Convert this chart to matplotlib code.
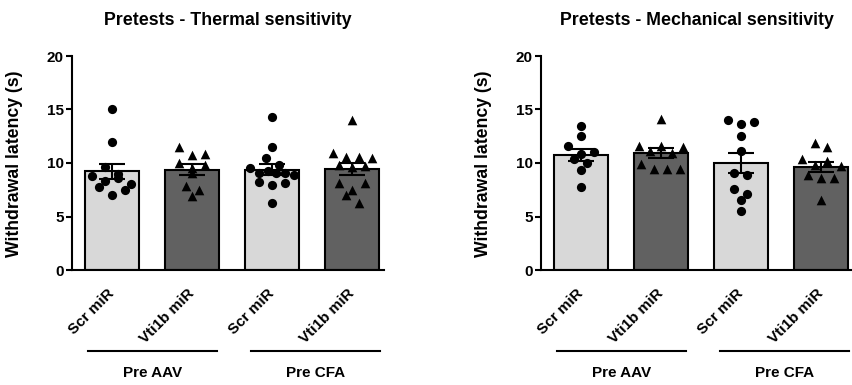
import numpy as np
import matplotlib
matplotlib.use("Agg")
import matplotlib.pyplot as plt
import matplotlib.transforms as mtransforms

plt.rcParams['font.family'] = ['Liberation Sans', 'DejaVu Sans']
plt.rcParams['font.weight'] = 'bold'

# ---------------- data ----------------
categories = ["Scr miR", "Vti1b miR", "Scr miR", "Vti1b miR"]
groups = ["Pre AAV", "Pre CFA"]
titles = ["Pretests - Thermal sensitivity", "Pretests - Mechanical sensitivity"]
ylabel = "Withdrawal latency (s)"
yticks = [0, 5, 10, 15, 20]

thermal_aav_scr = [15.0, 12.0, 9.65, 9.0, 8.3, 8.75, 8.6, 8.05, 7.8, 7.5, 7.05]
thermal_aav_vti = [11.5, 10.75, 10.85, 10.0, 9.55, 9.85, 9.1, 7.85, 7.45, 6.95]
thermal_cfa_scr = [14.3, 11.5, 10.5, 9.5, 9.85, 9.1, 8.85, 9.05, 9.05, 9.25, 7.9, 8.2, 8.1, 6.25]
thermal_cfa_vti = [14.05, 10.55, 10.95, 10.45, 10.6, 9.85, 9.6, 9.75, 8.1, 7.5, 8.1, 7.0, 6.25]

mech_aav_scr = [13.5, 12.55, 11.55, 10.85, 11.0, 10.35, 10.0, 9.3, 7.75]
mech_aav_vti = [14.1, 11.6, 11.45, 11.6, 10.9, 11.1, 9.9, 9.45, 9.45, 9.45]
mech_cfa_scr = [14.0, 13.6, 13.85, 12.5, 11.1, 8.9, 9.05, 7.55, 7.1, 6.55, 5.55]
mech_cfa_vti = [11.85, 11.5, 10.15, 10.35, 9.7, 9.8, 8.6, 8.6, 8.9, 6.55]

panels = [
    [thermal_aav_scr, thermal_aav_vti, thermal_cfa_scr, thermal_cfa_vti],
    [mech_aav_scr, mech_aav_vti, mech_cfa_scr, mech_cfa_vti],
]

# ---------------- style ----------------
bar_colors = ["#d8d8d8", "#616161", "#d8d8d8", "#616161"]
markers = ["o", "^", "o", "^"]


def row_scatter_x(values, ax, x0, row_px=8.5, step_px=13.0, max_half_px=22.0):
    """GraphPad-like scatter: values close in y share a row, spread in x."""
    vals = np.asarray(values, dtype=float)
    t = ax.transData
    p00 = t.transform((0, 0))
    p11 = t.transform((1, 1))
    sx = p11[0] - p00[0]
    sy = p11[1] - p00[1]
    order = np.argsort(-vals, kind="stable")
    rows, cur = [], [order[0]]
    for i in order[1:]:
        if (vals[cur[0]] - vals[i]) * sy <= row_px:
            cur.append(i)
        else:
            rows.append(cur)
            cur = [i]
    rows.append(cur)
    xs = np.zeros(len(vals))
    for r in rows:
        n = len(r)
        if n == 1:
            xs[r[0]] = 0.0
            continue
        step = min(step_px, 2 * max_half_px / (n - 1))
        pos = (np.arange(n) - (n - 1) / 2) * step
        # interleave: alternate left/right so neighbours differ in height
        pos_order = np.concatenate([pos[0::2], pos[1::2]])
        for k, idx in enumerate(r):
            xs[idx] = pos_order[k]
    return x0 + xs / sx


W, H = 853, 385
fig = plt.figure(figsize=(W / 100, H / 100), dpi=100)

ax_bottom = (H - 270) / H
ax_height = 214 / H
ax_width = 312 / W
lefts = [72 / W, 541 / W]
ylabel_x = [15 / W, 484 / W]

for p, data in enumerate(panels):
    ax = fig.add_axes([lefts[p], ax_bottom, ax_width, ax_height])
    x = np.arange(len(data))
    means = [np.mean(d) for d in data]
    sems = [np.std(d, ddof=1) / np.sqrt(len(d)) for d in data]

    ax.set_xlim(-0.5, 3.4)
    ax.set_ylim(0, 20)

    ax.bar(x, means, width=0.67, color=bar_colors, edgecolor="black",
           linewidth=1.5, zorder=1)
    ax.errorbar(x, means, yerr=sems, fmt="none", ecolor="black",
                elinewidth=1.5, capsize=9.5, capthick=1.5, zorder=3)
    for i, d in enumerate(data):
        xs = row_scatter_x(d, ax, x[i])
        ax.scatter(xs, d, marker=markers[i], s=44 if markers[i] == "o" else 48,
                   color="black", linewidths=0, zorder=2, clip_on=False)

    for s in ["top", "right"]:
        ax.spines[s].set_visible(False)
    for s in ["left", "bottom"]:
        ax.spines[s].set_linewidth(1.5)

    ax.set_yticks(yticks)
    ax.set_yticklabels([str(v) for v in yticks], fontsize=11, fontweight="bold")
    ax.tick_params(axis="y", length=4, width=1.5, pad=2)
    ax.set_xticks(x)
    ax.set_xticklabels(categories, rotation=45, ha="right", va="top",
                       rotation_mode="anchor", fontsize=11, fontweight="bold")
    ax.tick_params(axis="x", length=0, pad=11.5)
    shift = mtransforms.ScaledTranslation(-0.05, 0, fig.dpi_scale_trans)
    for lab in ax.get_xticklabels():
        lab.set_transform(lab.get_transform() + shift)

    ax.set_title(titles[p], fontsize=12.8, fontweight="bold", pad=22)
    fig.text(ylabel_x[p], (H - 164) / H, ylabel, rotation=90, ha="center",
             va="center", fontsize=12.7, fontweight="bold")

    trans = mtransforms.blended_transform_factory(ax.transData, ax.transAxes)
    for g, (a, b) in enumerate([(-0.3, 1.31), (1.74, 3.35)]):
        ax.plot([a, b], [-0.377, -0.377], color="black", lw=1.5,
                transform=trans, clip_on=False)
        ax.text((a + b) / 2, -0.48, groups[g], transform=trans, ha="center",
                va="center", fontsize=11, fontweight="bold")

fig.savefig("out.png", dpi=100)
